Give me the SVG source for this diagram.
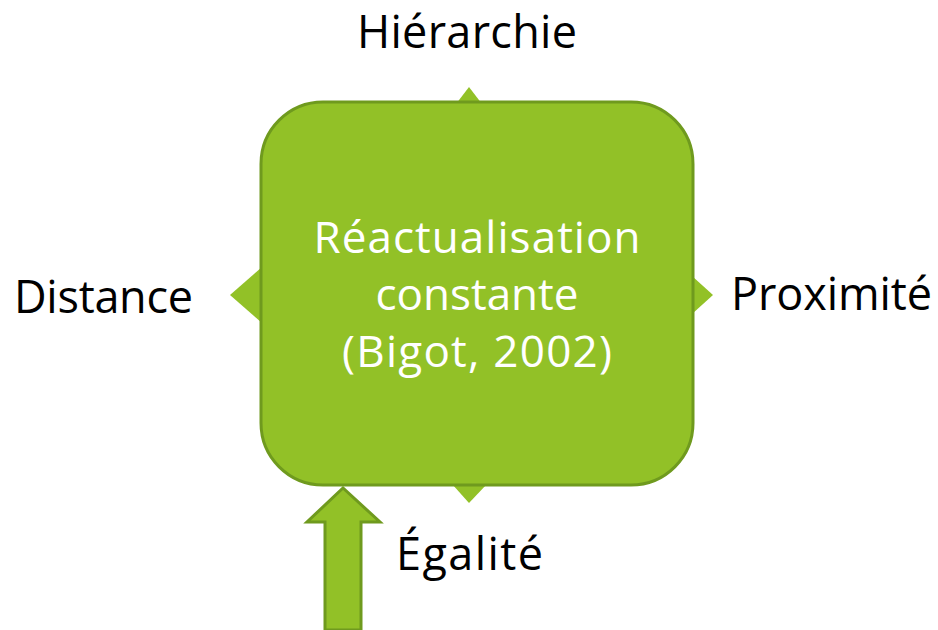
<svg xmlns="http://www.w3.org/2000/svg" width="938" height="630" viewBox="0 0 938 630">
<style>
.lbl{font-family:"Open Sans","DejaVu Sans",sans-serif;font-size:45px;fill:#000}
.ctr{font-family:"Open Sans","DejaVu Sans",sans-serif;font-size:44px;fill:#fff;text-anchor:middle}
.tri{fill:#92c127}
.box{fill:#92c127;stroke:#6f9a1e;stroke-width:3}
</style>
<rect width="938" height="630" fill="#fff"/>
<g id="connectors">
<polygon class="tri" points="456,104 469,87 482,104"/>
<polygon class="tri" points="262,267 230,295 262,323"/>
<polygon class="tri" points="692,276 713,295 692,314"/>
<polygon class="tri" points="452,484 469,503 487,484"/>
<polygon class="box" points="325,630 325,522 307,522 343,488 380,522 361,522 361,630"/>
</g>
<g id="center">
<rect class="box" x="261" y="102" width="432" height="383" rx="62" ry="62"/>
<text class="ctr" x="477" y="253" textLength="327">Réactualisation</text>
<text class="ctr" x="477" y="310">constante</text>
<text class="ctr" x="477" y="367" textLength="270">(Bigot, 2002)</text>
</g>
<g id="hierarchie"><text class="lbl" x="357" y="48" textLength="220">Hiérarchie</text></g>
<g id="distance"><text class="lbl" x="14" y="313" textLength="179">Distance</text></g>
<g id="proximite"><text class="lbl" x="731" y="310" textLength="201">Proximité</text></g>
<g id="egalite"><text class="lbl" x="396" y="570" textLength="147">Égalité</text></g>
</svg>
